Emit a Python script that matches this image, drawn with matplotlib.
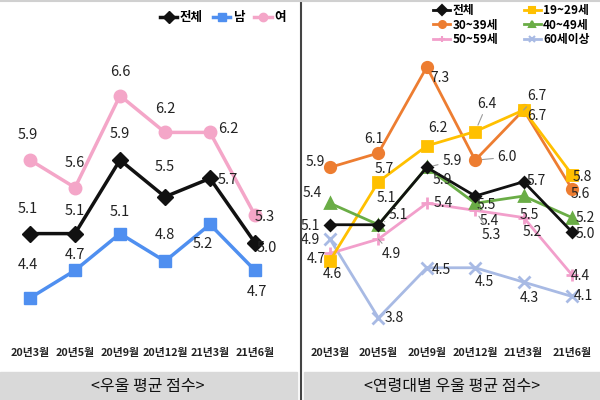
import matplotlib
matplotlib.use("Agg")
import matplotlib.pyplot as plt
from matplotlib.patches import Rectangle
from matplotlib.lines import Line2D

plt.rcParams['font.family'] = ['Noto Sans CJK KR', 'DejaVu Sans']

months = ["20년3월", "20년5월", "20년9월", "20년12월", "21년3월", "21년6월"]

# left: by sex
total = [5.1, 5.1, 5.9, 5.5, 5.7, 5.0]
male = [4.4, 4.7, 5.1, 4.8, 5.2, 4.7]
female = [5.9, 5.6, 6.6, 6.2, 6.2, 5.3]

# right: by age group
age_total = [5.1, 5.1, 5.9, 5.5, 5.7, 5.0]
age_19_29 = [4.6, 5.7, 6.2, 6.4, 6.7, 5.8]
age_30_39 = [5.9, 6.1, 7.3, 6.0, 6.7, 5.6]
age_40_49 = [5.4, 5.1, 5.9, 5.4, 5.5, 5.2]
age_50_59 = [4.7, 4.9, 5.4, 5.3, 5.2, 4.4]
age_60 = [4.9, 3.8, 4.5, 4.5, 4.3, 4.1]

W, H = 600, 400
fig = plt.figure(figsize=(6, 4), dpi=100)


def px_axes(x0, x1, y0, y1):
    # pixel box, y measured from the top
    return fig.add_axes([x0 / W, 1 - y1 / H, (x1 - x0) / W, (y1 - y0) / H])


def label_points(ax, xs, ys, offsets, color="#222222", size=10.5, leaders=()):
    for i, (x, y) in enumerate(zip(xs, ys)):
        dx, dy = offsets[i]
        props = None
        if i in leaders:
            props = dict(arrowstyle="-", color="#9a9a9a", lw=0.8, shrinkA=1, shrinkB=5)
        ax.annotate(f"{y:.1f}", (x, y), xytext=(dx, dy), textcoords="offset pixels",
                    ha="center", va="center", fontsize=size, color=color,
                    arrowprops=props)


def style(ax):
    for s in ax.spines.values():
        s.set_visible(False)
    ax.set_yticks([])
    ax.set_xticks(range(len(months)))
    ax.set_xticklabels(months, fontsize=7.8, fontweight="bold", color="#222222")
    ax.tick_params(axis="x", length=0, pad=6)
    ax.patch.set_alpha(0)


xs = list(range(len(months)))

# ---------- left panel ----------
ax1 = px_axes(0, 297, 0, 340)
ax1.set_xlim(-30 / 45, 267 / 45)
ax1.set_ylim(4.4 - 42 / 92, 4.4 + 298 / 92)
style(ax1)

c_black = "#111111"
c_blue = "#4f8ff0"
c_pink = "#f4a6c8"
ax1.plot(xs, female, color=c_pink, lw=2.5, marker="o", ms=9, label="여")
ax1.plot(xs, total, color=c_black, lw=2.5, marker="D", ms=8, label="전체")
ax1.plot(xs, male, color=c_blue, lw=2.5, marker="s", ms=9, label="남")

label_points(ax1, xs, female, [(-2, 25), (0, 25), (0, 24), (0, 23), (18, 3), (10, -2)])
label_points(ax1, xs, total, [(-2, 25), (0, 23), (0, 26), (0, 30), (18, -2), (12, -5)])
label_points(ax1, xs, male, [(-2, 33), (0, 15), (0, 22), (0, 26), (-7, -20), (2, -22)])

h1 = [Line2D([], [], color=c_black, lw=2.5, marker="D", ms=6),
      Line2D([], [], color=c_blue, lw=2.5, marker="s", ms=6),
      Line2D([], [], color=c_pink, lw=2.5, marker="o", ms=6)]
ax1.legend(h1, ["전체", "남", "여"], ncol=3, loc="upper right", bbox_to_anchor=(1.0, 1.0),
           frameon=False, handlelength=1.4, handletextpad=0.2, columnspacing=0.8,
           prop={"size": 9, "weight": "bold"})

# ---------- right panel ----------
ax2 = px_axes(303, 600, 0, 340)
ax2.set_xlim(-27 / 48.4, 270 / 48.4)
ax2.set_ylim(7.3 - 273 / 71.7, 7.3 + 67 / 71.7)
style(ax2)

c_orange = "#ed7d31"
c_yellow = "#ffc000"
c_green = "#6aad46"
c_pink2 = "#f29fcb"
c_lblue = "#a8bae4"

series = [
    ("60세이상", age_60, c_lblue, "x", 8),
    ("50~59세", age_50_59, c_pink2, "+", 9),
    ("30~39세", age_30_39, c_orange, "o", 7.5),
    ("19~29세", age_19_29, c_yellow, "s", 7.5),
    ("40~49세", age_40_49, c_green, "^", 7.5),
    ("전체", age_total, c_black, "D", 5.5),
]
handles = {}
for name, vals, col, mk, ms in series:
    ln, = ax2.plot(xs, vals, color=col, lw=2.0, marker=mk, ms=ms, mew=2.0, label=name)
    handles[name] = ln

label_points(ax2, xs, age_total, [(-20, -1), (8, 27), (25, 6), (11, -9), (13, 1), (13, -2)],
             size=10, leaders=(2,))
label_points(ax2, xs, age_30_39, [(-15, 5), (-4, 14), (13, -11), (32, 3), (13, 14), (8, -5)],
             size=10, leaders=(3, 4))
label_points(ax2, xs, age_19_29, [(2, -13), (6, 13), (11, 18), (12, 28), (13, -6), (10, -2)],
             size=10, leaders=(3,))
label_points(ax2, xs, age_40_49, [(-18, 10), (20, 10), (15, -13), (14, -18), (6, -19), (13, 0)],
             size=10, leaders=(1, 3))
label_points(ax2, xs, age_50_59, [(-14, -6), (13, -15), (16, 0), (16, -25), (9, -14), (8, -1)],
             size=10, leaders=(1, 3))
label_points(ax2, xs, age_60, [(-20, -1), (16, 0), (15, -2), (9, -14), (6, -16), (11, 0)],
             size=10)

order = ["전체", "30~39세", "50~59세", "19~29세", "40~49세", "60세이상"]
h2 = [Line2D([], [], color=handles[n].get_color(), lw=2.0, marker=handles[n].get_marker(),
             ms=5, mew=1.5) for n in order]
ax2.legend(h2, order, ncol=2, loc="upper right", bbox_to_anchor=(1.0, 1.02),
           frameon=False, handlelength=1.4, handletextpad=0.2, columnspacing=2.2,
           labelspacing=0.15, prop={"size": 8.5, "weight": "bold"})

# ---------- frame bits ----------
fig.patches.append(Rectangle((0, 0), 297 / W, 28 / H, transform=fig.transFigure,
                             color="#d9d9d9", zorder=0))
fig.patches.append(Rectangle((304 / W, 0), 296 / W, 28 / H, transform=fig.transFigure,
                             color="#d9d9d9", zorder=0))
fig.lines.append(Line2D([301 / W, 301 / W], [0, 1], transform=fig.transFigure,
                        color="#444444", lw=1.5))
fig.lines.append(Line2D([0, 1], [1 - 1 / H, 1 - 1 / H], transform=fig.transFigure,
                        color="#d0d0d0", lw=1.5))
fig.text(148 / W, 14 / H, "<우울 평균 점수>", ha="center", va="center", fontsize=11.5,
         color="#111111")
fig.text(452 / W, 14 / H, "<연령대별 우울 평균 점수>", ha="center", va="center",
         fontsize=11.5, color="#111111")

fig.savefig("out.png", dpi=100)
